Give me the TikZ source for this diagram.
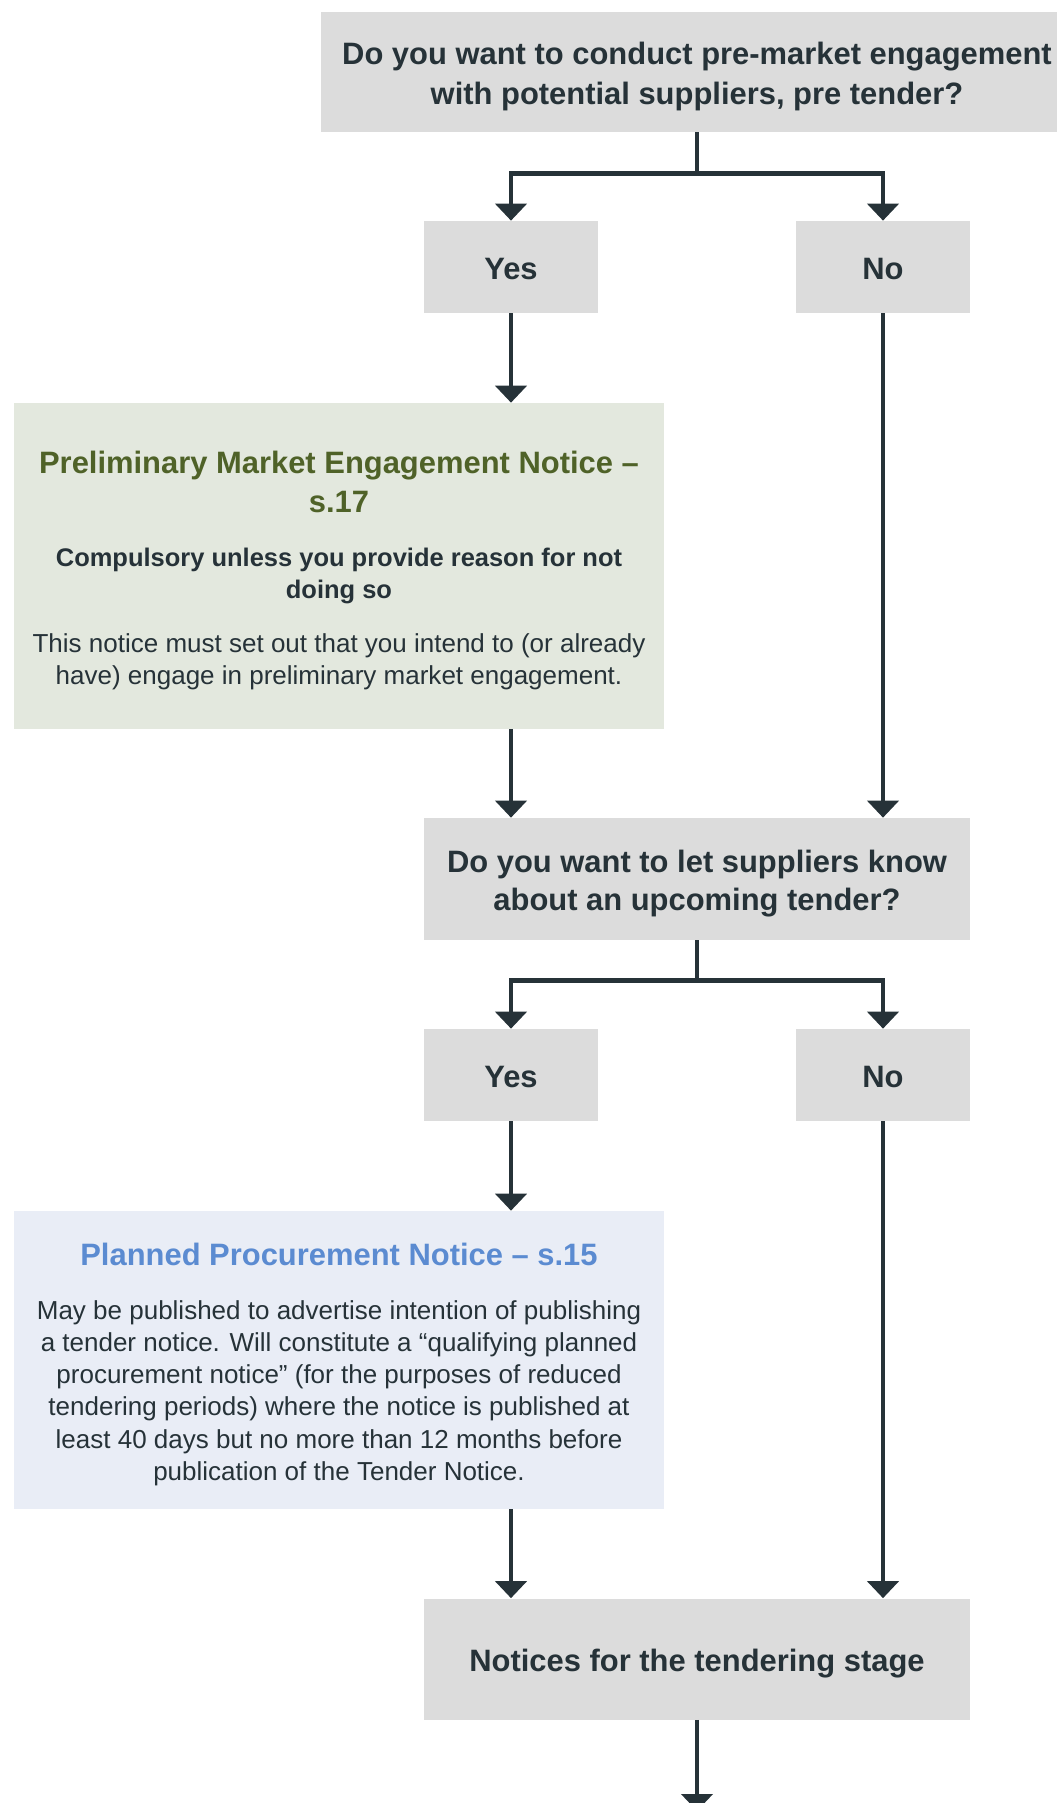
\documentclass[tikz,border=0pt]{standalone}
\usepackage{fontspec}
\setmainfont{Liberation Sans}
\usetikzlibrary{arrows.meta}

\definecolor{boxgrey}{RGB}{220,220,220}
\definecolor{inkdark}{RGB}{38,50,56}
\definecolor{greenfill}{RGB}{227,232,222}
\definecolor{greentitle}{RGB}{79,98,40}
\definecolor{bluefill}{RGB}{233,237,246}
\definecolor{bluetitle}{RGB}{91,139,209}

\newcommand{\headfont}{\fontsize{17.6pt}{21.5pt}\selectfont\bfseries}
\newcommand{\subfont}{\fontsize{14.5pt}{18.4pt}\selectfont\bfseries}
\newcommand{\bodyfont}{\fontsize{14.8pt}{18.3pt}\selectfont}
% line box centred on the letters, lines never pushed apart
\newcommand{\linestrut}{\rule[\dimexpr0.4em-0.5\baselineskip\relax]{0pt}{\baselineskip}}
\newcommand{\blockgap}{\par\nointerlineskip\vspace{12pt}}
\setlength{\lineskiplimit}{-\maxdimen}

\tikzset{
	greybox/.style={fill=boxgrey, inner sep=0pt, text=inkdark, font=\headfont, text width=#1, align=flush center},
	notebox/.style={inner sep=0pt, text=inkdark, text width=13cm, align=flush center},
	flow/.style={draw=inkdark, line width=2.6pt, -{Triangle[width=0.62cm,length=0.34cm]}},
}

\begin{document}
\begin{tikzpicture}[x=0.02cm, y=-0.02cm]
			%%%%% START %%%%%
			
			\useasboundingbox (0, 0) rectangle (1057, 1803);
			
			\node[greybox=15.04cm, minimum height=2.4cm] (q1) at (697, 72) {\linestrut Do you want to conduct pre-market engagement\\ \linestrut with potential suppliers, pre tender?};
			
			\node[greybox=3.48cm, minimum height=1.84cm] (yes1) at (511, 267) {\linestrut Yes};
			\node[greybox=3.48cm, minimum height=1.84cm] (no1) at (883, 267) {\linestrut No};
			
			\node[notebox, fill=greenfill, minimum height=6.52cm] (pmen) at (339, 566) {%
				{\headfont\color{greentitle}\linestrut Preliminary Market Engagement Notice –\\ \linestrut s.17\par}\blockgap
				{\subfont\linestrut Compulsory unless you provide reason for not\\ \linestrut doing so\par}\blockgap
				{\bodyfont\linestrut This notice must set out that you intend to (or already\\ \linestrut have) engage in preliminary market engagement.\par}};
			
			\node[greybox=10.92cm, minimum height=2.44cm] (q2) at (697, 879) {\linestrut Do you want to let suppliers know\\ \linestrut about an upcoming tender?};
			
			\node[greybox=3.48cm, minimum height=1.84cm] (yes2) at (511, 1075) {\linestrut Yes};
			\node[greybox=3.48cm, minimum height=1.84cm] (no2) at (883, 1075) {\linestrut No};
			
			\node[notebox, fill=bluefill, minimum height=5.96cm] (ppn) at (339, 1360) {%
				{\headfont\color{bluetitle}\linestrut Planned Procurement Notice – s.15\par}\blockgap
				{\bodyfont\linestrut May be published to advertise intention of publishing\\
				\linestrut a tender notice. Will constitute a “qualifying planned\\
				\linestrut procurement notice” (for the purposes of reduced\\
				\linestrut tendering periods) where the notice is published at\\
				\linestrut least 40 days but no more than 12 months before\\
				\linestrut publication of the Tender Notice.\par}};
			
			\node[greybox=10.92cm, minimum height=2.42cm] (tender) at (697, 1659) {\linestrut Notices for the tendering stage};
			\coordinate (next) at (697, 1811);
			
			% connectors
			\draw[flow] (q1.south) -- ++(0, 41) -| (yes1.north);
			\draw[flow] (q1.south) -- ++(0, 41) -| (no1.north);
			\draw[flow] (yes1.south) -- (yes1.south |- pmen.north);
			\draw[flow] (yes1 |- pmen.south) -- (yes1 |- q2.north);
			\draw[flow] (no1.south) -- (no1.south |- q2.north);
			
			\draw[flow] (q2.south) -- ++(0, 40) -| (yes2.north);
			\draw[flow] (q2.south) -- ++(0, 40) -| (no2.north);
			\draw[flow] (yes2.south) -- (yes2.south |- ppn.north);
			\draw[flow] (yes2 |- ppn.south) -- (yes2 |- tender.north);
			\draw[flow] (no2.south) -- (no2.south |- tender.north);
			
			\draw[flow] (tender.south) -- (next);
			
			%%%%% END %%%%%
\end{tikzpicture}
\end{document}
